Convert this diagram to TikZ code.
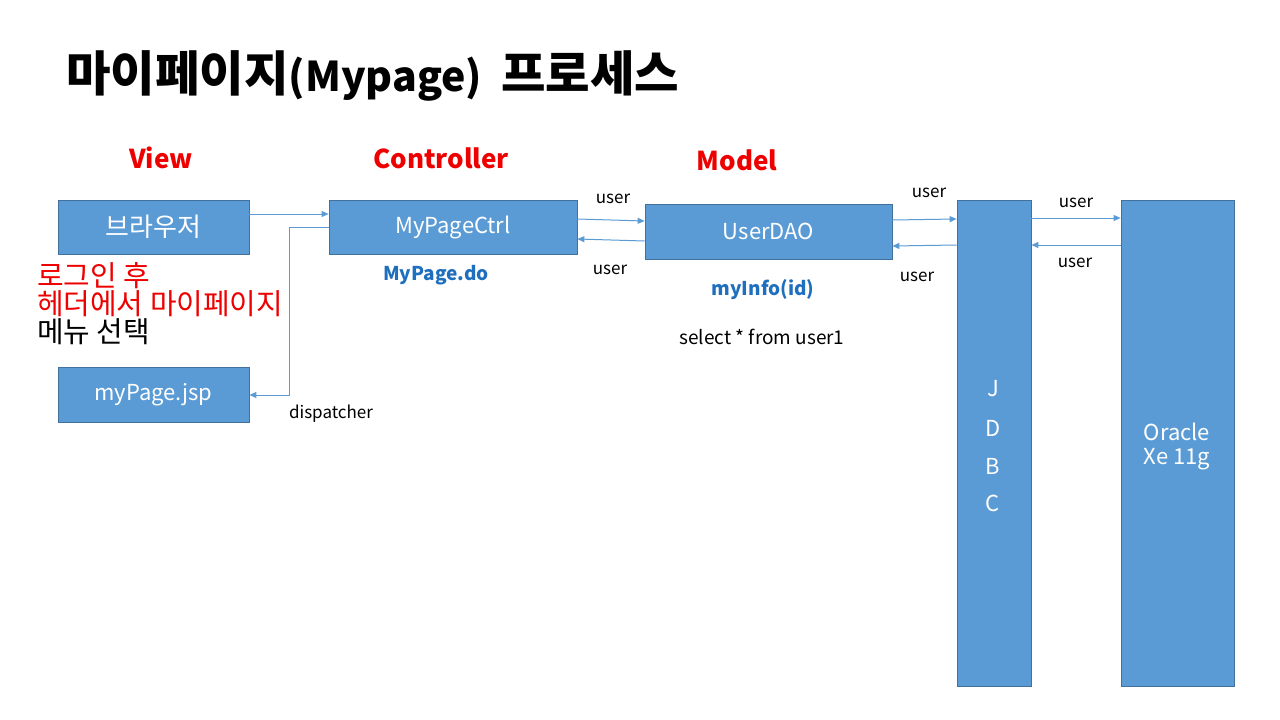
\documentclass[tikz,border=0pt]{standalone}
\usepackage{fontspec}
\setmainfont{Noto Sans CJK KR}
% Hangul is set a little larger than the Latin text around it
\newfontfamily\krf[Scale=1.18]{Noto Sans CJK KR}
\usetikzlibrary{arrows.meta}
\definecolor{boxfill}{HTML}{5B9BD5}
\definecolor{boxline}{HTML}{41719C}
\definecolor{hdred}{HTML}{EE0000}
\definecolor{opblue}{HTML}{1F6FBF}
\tikzset{
  blk/.style={draw=boxline, line width=0.8pt, fill=boxfill, text=white, inner sep=0pt,
    font=\fontsize{22}{26}\selectfont},
  flow/.style={draw=boxfill, line width=1pt, -{Triangle[length=7pt,width=6pt]}},
  lbl/.style={font=\fontsize{17}{20}\selectfont, text=black, inner sep=0pt},
  layer/.style={font=\bfseries\fontsize{26}{30}\selectfont, text=hdred, inner sep=0pt},
  op/.style={font=\bfseries\fontsize{19}{22}\selectfont, text=opblue, inner sep=0pt},
  tall/.style={inner sep=0pt, text=white, font=\fontsize{22}{26}\selectfont},
}
\begin{document}
\begin{tikzpicture}[x=1pt,y=-1pt]
\useasboundingbox (0,0) rectangle (1280,720);
\fill[white] (0,0) rectangle (1280,720);

% title
\node[anchor=west, inner sep=0pt, font=\bfseries\fontsize{41}{48}\selectfont] (title) at (66,76)
  {{\krf\bfseries 마이페이지}(Mypage)\ \ {\krf\bfseries 프로세스}};

% layer headings
\node[layer] (hview) at (161,158) {View};
\node[layer] (hctrl) at (441,158) {Controller};
\node[layer] (hmodel) at (737,160) {Model};

% boxes
\node[blk, minimum width=191pt, minimum height=54pt] (browser) at (153.5,227) {\krf 브라우저};
\node[blk, minimum width=191pt, minimum height=55pt] (jsp) at (153.5,394.5) {myPage.jsp};
\node[blk, minimum width=248pt, minimum height=54pt] (ctrl) at (453,227) {MyPageCtrl};
\node[blk, minimum width=247pt, minimum height=55pt] (dao) at (768.5,231.5) {UserDAO};
\node[blk, minimum width=74pt, minimum height=486pt] (jdbc) at (994,443) {};
\node[blk, minimum width=113pt, minimum height=486pt] (ora) at (1177.5,443) {};

% text inside the tall boxes
\node[tall] (jJ) at (993,389) {J};
\node[tall] (jD) at (993,428) {D};
\node[tall] (jB) at (993,466) {B};
\node[tall] (jC) at (993,503) {C};
\node[tall, align=center] (oratxt) at (1177,446) {Oracle\\[-2pt]Xe 11g};

% note under the browser box
\node[anchor=north west, inner sep=0pt, align=left, font=\krf\fontsize{24.5}{28}\selectfont] (note) at (37,262)
  {\textcolor{hdred}{로그인 후}\\\textcolor{hdred}{헤더에서 마이페이지}\\메뉴 선택};

% method labels
\node[op] (mpdo) at (436,275) {MyPage.do};
\node[op] (myinfo) at (763,290) {myInfo(id)};
\node[lbl, font=\fontsize{19}{22}\selectfont] (sql) at (762,337) {select * from user1};

% connectors
\draw[flow] (browser.east |- 0,214) -- (ctrl.west |- 0,214);
\coordinate (dturn) at (289,227);
\draw[flow] (ctrl.west |- 0,227) -- (dturn) |- (jsp.east |- 0,395);
\node[lbl] (ldisp) at (331,414) {dispatcher};

\draw[flow] (ctrl.east |- 0,219) -- (dao.west |- 0,221);
\node[lbl] (lu1) at (613,199) {user};
\draw[flow] (dao.west |- 0,241) -- (ctrl.east |- 0,239);
\node[lbl] (lu2) at (610,270) {user};

\draw[flow] (dao.east |- 0,220) -- (jdbc.west |- 0,219);
\node[lbl] (lu3) at (929,193) {user};
\draw[flow] (jdbc.west |- 0,245) -- (dao.east |- 0,246);
\node[lbl] (lu4) at (917,277) {user};

\draw[flow] (jdbc.east |- 0,218) -- (ora.west |- 0,218);
\node[lbl] (lu5) at (1076,203) {user};
\draw[flow] (ora.west |- 0,245) -- (jdbc.east |- 0,245);
\node[lbl] (lu6) at (1075,263) {user};
\end{tikzpicture}
\end{document}
